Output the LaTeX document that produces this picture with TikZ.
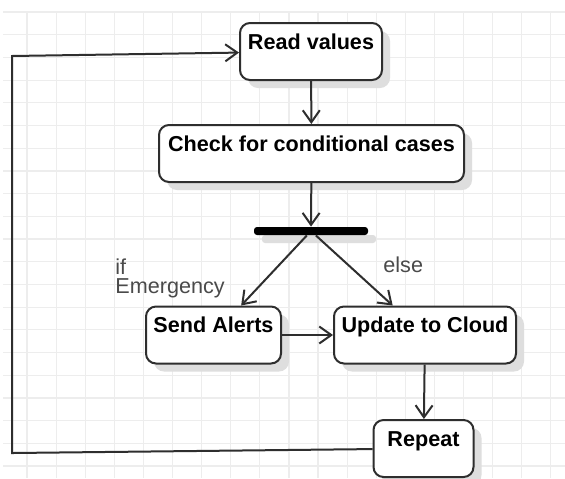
\documentclass[tikz,border=0pt]{standalone}
\usepackage{fontspec}
\setmainfont{Liberation Sans}
\usetikzlibrary{arrows.meta,shadows}

\definecolor{linegray}{HTML}{2E2E2E}
\definecolor{labelgray}{HTML}{4A4A4A}
\definecolor{gridgray}{HTML}{EDEDED}

\begin{document}
\begin{tikzpicture}[x=0.5pt, y=-0.5pt,
    >={Straight Barb[length=6pt,width=8.5pt]},
    act/.style={draw=linegray, line width=1pt, rounded corners=5pt, fill=white,
      general shadow={fill=black!13, shadow xshift=4pt, shadow yshift=-4pt},
      minimum height=28.5pt, inner xsep=3pt, inner ysep=5pt,
      text height=8pt, text depth=10.5pt,
      font=\fontsize{10.8}{13}\selectfont\bfseries},
    forkbar/.style={fill=black, minimum width=57pt, minimum height=4pt,
      inner sep=0pt, rounded corners=1.5pt,
      general shadow={fill=black!13, shadow xshift=4pt, shadow yshift=-4pt}},
    flow/.style={->, draw=linegray, line width=1pt},
    guard/.style={text=labelgray, font=\fontsize{10.8}{9.5}\selectfont,
      inner sep=0pt, align=left},
    gridline/.style={gridgray, line width=0.6pt}]

  % --- Lienzo ---
  \useasboundingbox (0,0) rectangle (565,478);
  \fill[white] (0,0) rectangle (565,478);

  % --- Cuadricula ---
  \foreach \i in {0,...,18}
    \draw[gridline] ({27+29.1*\i},12) -- ({27+29.1*\i},478);
  \foreach \j in {0,...,20}
    \draw[gridline] (3,{12+22.7*\j}) -- (565,{12+22.7*\j});

  % --- Actividades ---
  \node[act, minimum width=71pt]   (read)  at (311,51.5)  {Read values};
  \node[act, minimum width=152.5pt] (check) at (311.5,153.5) {Check for conditional cases};
  \node[forkbar]                   (fork)  at (311,231)   {};
  \node[act, minimum width=67.5pt] (alert) at (213.5,335) {Send Alerts};
  \node[act, minimum width=91pt]   (cloud) at (425,335)   {Update to Cloud};
  \node[act, minimum width=50pt]   (rep)   at (423.5,448.5) {Repeat};

  % --- Guardas ---
  \node[guard, anchor=north west] (ifemg) at (115,258) {if\\Emergency};
  \node[guard, anchor=base west]  (other) at (383,272) {else};

  % --- Flujo ---
  \draw[flow] (read) -- (check);
  \draw[flow] (check) -- (fork);
  \draw[flow] (fork) -- (alert);
  \draw[flow] (fork) -- (cloud);
  \draw[flow] (alert) -- (cloud);
  \draw[flow] (cloud) -- (rep);

  % --- Bucle de vuelta ---
  \coordinate (loopbot) at (12,453);
  \coordinate (looptop) at (12,56);
  \draw[flow] (rep) -- (loopbot) -- (looptop) -- (read);

\end{tikzpicture}
\end{document}
